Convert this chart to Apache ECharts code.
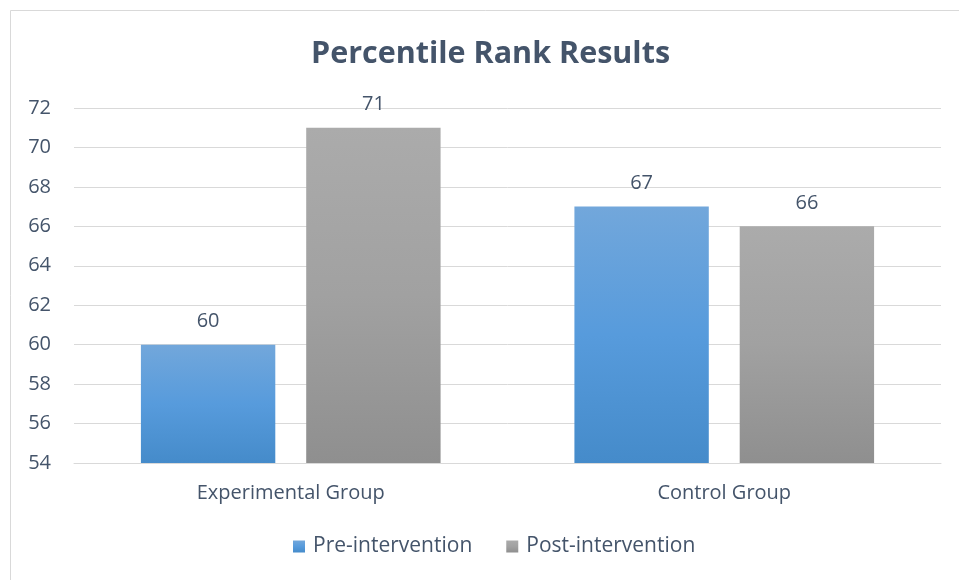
<!DOCTYPE html>
<html>
<head>
<meta charset="utf-8">
<script src="https://cdn.jsdelivr.net/npm/echarts@6/dist/echarts.min.js"></script>
<style>
  html, body { margin: 0; padding: 0; background: #fff; }
  #chart { width: 959px; height: 580px; }
</style>
</head>
<body>
<div id="chart"></div>
<script>
const categories = ["Experimental Group", "Control Group"];
const preValues = [60, 67];
const postValues = [71, 66];
const seriesNames = ["Pre-intervention", "Post-intervention"];

const textColor = "#44546A";
const fontFamily = "'Open Sans', 'Noto Sans', sans-serif";

const blueFill = new echarts.graphic.LinearGradient(0, 0, 0, 1, [
  { offset: 0, color: "#72A7DB" },
  { offset: 0.5, color: "#579BDC" },
  { offset: 1, color: "#458BCA" },
]);
const grayFill = new echarts.graphic.LinearGradient(0, 0, 0, 1, [
  { offset: 0, color: "#ABABAB" },
  { offset: 0.5, color: "#A1A1A1" },
  { offset: 1, color: "#8F8F8F" },
]);

const chart = echarts.init(document.getElementById("chart"), null, { renderer: "canvas" });

const labelStyle = {
  show: true,
  position: "top",
  distance: 13,
  color: textColor,
  fontSize: 20,
  fontFamily,
};

chart.setOption({
  backgroundColor: "#fff",
  animation: false,
  graphic: [
    {
      type: "rect",
      shape: { x: 10.5, y: 10.5, width: 980, height: 600 },
      style: { fill: "none", stroke: "#D9D9D9", lineWidth: 1 },
      silent: true,
    },
  ],
  title: {
    text: "Percentile Rank Results",
    left: 306,
    top: 34,
    textStyle: {
      color: textColor,
      fontSize: 30.5,
      fontWeight: "bold",
      fontFamily,
    },
  },
  legend: {
    bottom: 18,
    left: 288,
    itemWidth: 12,
    itemHeight: 12,
    itemGap: 34,
    icon: "rect",
    textStyle: { color: textColor, fontSize: 21, fontFamily, padding: [0, 0, 0, 3] },
    data: seriesNames,
  },
  grid: { left: 74, right: 18, top: 108, bottom: 117 },
  xAxis: {
    type: "category",
    data: categories,
    axisLine: { lineStyle: { color: "#D9D9D9", width: 1 } },
    axisTick: { show: false },
    axisLabel: { color: textColor, fontSize: 20, fontFamily, margin: 20 },
  },
  yAxis: {
    type: "value",
    min: 54,
    max: 72,
    interval: 2,
    axisLine: { show: false },
    axisTick: { show: false },
    splitLine: { lineStyle: { color: "#D9D9D9", width: 1 } },
    axisLabel: { color: textColor, fontSize: 20, fontFamily, margin: 23 },
  },
  series: [
    {
      name: seriesNames[0],
      type: "bar",
      data: preValues,
      barWidth: "31%",
      barGap: "23%",
      itemStyle: { color: blueFill },
      label: labelStyle,
    },
    {
      name: seriesNames[1],
      type: "bar",
      data: postValues,
      barWidth: "31%",
      barGap: "23%",
      itemStyle: { color: grayFill },
      label: labelStyle,
    },
  ],
});
</script>
</body>
</html>
